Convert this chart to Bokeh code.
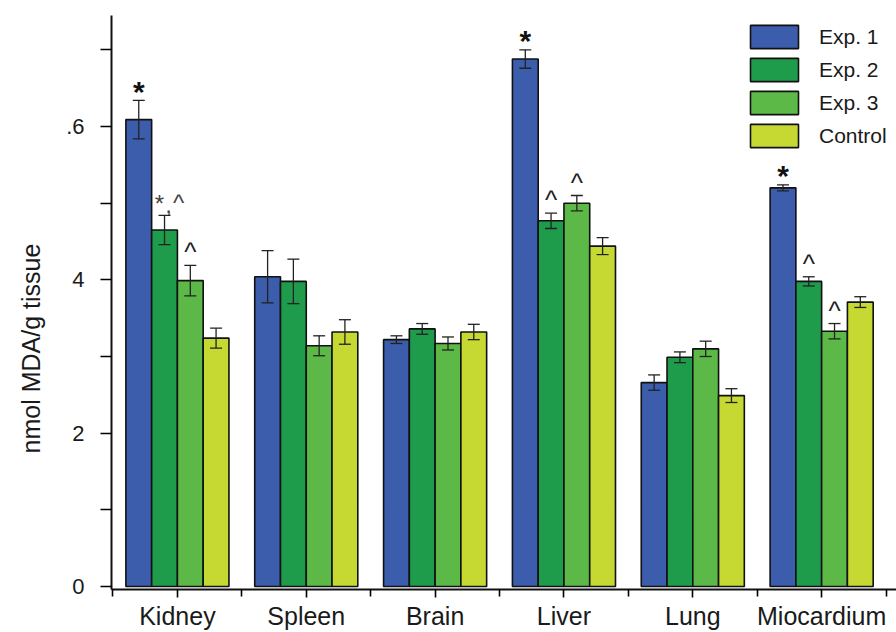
from bokeh.plotting import figure
from bokeh.models import (FixedTicker, Whisker, ColumnDataSource, Range1d,
                          Legend, LegendItem, TeeHead, Title)
from bokeh.core.properties import value
from bokeh.embed import file_html
from bokeh.resources import INLINE

# ---------------- data ----------------
organs = ["Kidney", "Spleen", "Brain", "Liver", "Lung", "Miocardium"]
series = ["Exp. 1", "Exp. 2", "Exp. 3", "Control"]

exp1 = [6.09, 4.04, 3.22, 6.88, 2.66, 5.20]
exp1_err = [0.25, 0.34, 0.05, 0.12, 0.10, 0.04]
exp2 = [4.65, 3.98, 3.36, 4.77, 2.99, 3.98]
exp2_err = [0.19, 0.29, 0.07, 0.10, 0.07, 0.06]
exp3 = [3.99, 3.14, 3.17, 5.00, 3.10, 3.33]
exp3_err = [0.20, 0.13, 0.085, 0.10, 0.10, 0.10]
control = [3.24, 3.32, 3.32, 4.44, 2.49, 3.71]
control_err = [0.13, 0.16, 0.10, 0.11, 0.09, 0.07]

y_ticks = [0, 1, 2, 3, 4, 5, 6, 7]
y_tick_labels = ["0", "", "2", "", "4", "", ".6", ""]
y_title = "nmol MDA/g tissue"

# significance marks
ann_organ = ["Kidney", "Kidney", "Kidney", "Liver", "Liver", "Liver",
             "Miocardium", "Miocardium", "Miocardium"]
ann_series = ["Exp. 1", "Exp. 2", "Exp. 3", "Exp. 1", "Exp. 2", "Exp. 3",
              "Exp. 1", "Exp. 2", "Exp. 3"]
ann_mark = ["*", "*,^", "^", "*", "^", "^", "*", "^", "^"]

# ---------------- styling ----------------
colors = ["#3B5DAB", "#1E9B4B", "#5CB948", "#C6D932"]
offsets = [-0.3, -0.1, 0.1, 0.3]
bar_w = 0.2
FONT = value("Liberation Sans")

vals = [exp1, exp2, exp3, control]
errs = [exp1_err, exp2_err, exp3_err, control_err]

p = figure(width=896, height=632, output_backend="svg", toolbar_location=None,
           x_range=Range1d(-0.5116, 5.581), y_range=Range1d(-0.039, 7.448),
           min_border_left=110, min_border_right=0, min_border_top=15,
           min_border_bottom=42)
p.outline_line_color = None
p.xgrid.visible = False
p.ygrid.visible = False
p.background_fill_color = "white"
p.border_fill_color = "white"

items = []
for i, name in enumerate(series):
    xs = [k + offsets[i] for k in range(len(organs))]
    src = ColumnDataSource(dict(x=xs, top=vals[i],
                                upper=[v + e for v, e in zip(vals[i], errs[i])],
                                lower=[v - e for v, e in zip(vals[i], errs[i])]))
    r = p.vbar(x="x", top="top", bottom=0, width=bar_w, source=src,
               fill_color=colors[i], line_color="#111111", line_width=1.6)
    items.append(LegendItem(label=name, renderers=[r]))
    w = Whisker(base="x", upper="upper", lower="lower", source=src,
                dimension="height", line_color="#222222", line_width=1.3,
                upper_head=TeeHead(size=12, line_color="#222222", line_width=1.3),
                lower_head=TeeHead(size=12, line_color="#222222", line_width=1.3),
                level="annotation")
    p.add_layout(w)

# significance annotations
star = dict(x=[], y=[], t=[])
caret = dict(x=[], y=[], t=[])
small = dict(x=[], y=[], t=[], xo=[], yo=[])
for org, ser, mk in zip(ann_organ, ann_series, ann_mark):
    oi = organs.index(org)
    si = series.index(ser)
    xx = oi + offsets[si]
    yy = vals[si][oi] + errs[si][oi]
    if mk == "*":
        star["x"].append(xx); star["y"].append(yy); star["t"].append("*")
    elif mk == "^":
        caret["x"].append(xx); caret["y"].append(yy); caret["t"].append("^")
    else:
        for ch, xo, yo in zip(mk, [-5, 4, 14], [-12, -11, -13]):
            small["x"].append(xx); small["y"].append(yy); small["t"].append(ch)
            small["xo"].append(xo); small["yo"].append(yo)

p.text(x="x", y="y", text="t", source=ColumnDataSource(star),
       text_font=FONT, text_font_size="30px", text_font_style="bold",
       text_align="center", text_baseline="alphabetic", y_offset=-9,
       text_color="#111111")
p.text(x="x", y="y", text="t", source=ColumnDataSource(caret),
       text_font=FONT, text_font_size="26px",
       text_align="center", text_baseline="alphabetic", y_offset=-13,
       text_color="#222222")
p.text(x="x", y="y", text="t", source=ColumnDataSource(small),
       text_font=FONT, text_font_size="24px", x_offset="xo", y_offset="yo",
       text_align="center", text_baseline="alphabetic", text_color="#444444")

# axes
xa = p.xaxis[0]
xa.ticker = FixedTicker(ticks=list(range(len(organs))),
                        minor_ticks=[k - 0.5 for k in range(len(organs) + 1)])
xa.major_label_overrides = {k: o for k, o in enumerate(organs)}
xa.major_label_text_font = "Liberation Sans"
xa.major_label_text_font_size = "25px"
xa.major_label_text_color = "#1a1a1a"
xa.major_label_standoff = 4
xa.major_tick_out = 8
xa.major_tick_in = 0
xa.minor_tick_out = 7
xa.minor_tick_in = 0
xa.axis_line_width = 2
xa.major_tick_line_width = 1.6
xa.minor_tick_line_width = 1.6
xa.axis_line_color = "#111111"

ya = p.yaxis[0]
ya.ticker = FixedTicker(ticks=y_ticks, minor_ticks=[])
ya.major_label_overrides = {t: l for t, l in zip(y_ticks, y_tick_labels)}
ya.major_label_text_font = "Liberation Sans"
ya.major_label_text_font_size = "22px"
ya.major_label_text_color = "#1a1a1a"
ya.major_label_standoff = 16
ya.major_tick_out = 11
ya.major_tick_in = 0
ya.axis_line_width = 2
ya.major_tick_line_width = 1.6
ya.axis_line_color = "#111111"

# y-axis title placed as a left-side title so it can be shifted along the axis
yt = Title(text=y_title, align="left", offset=136, standoff=33,
           vertical_align="top",
           text_font="Liberation Sans", text_font_size="25px",
           text_font_style="normal", text_color="#1a1a1a")
p.add_layout(yt, "left")

legend = Legend(items=items, location=(633, 439), orientation="vertical",
                glyph_width=60, glyph_height=29, label_height=29,
                label_standoff=15, spacing=4, padding=0, margin=0,
                label_text_font="Liberation Sans", label_text_font_size="21px",
                label_text_color="#1a1a1a", border_line_color=None,
                background_fill_color="white", background_fill_alpha=1.0)
p.add_layout(legend)

open("out.html", "w").write(file_html(p, INLINE))
